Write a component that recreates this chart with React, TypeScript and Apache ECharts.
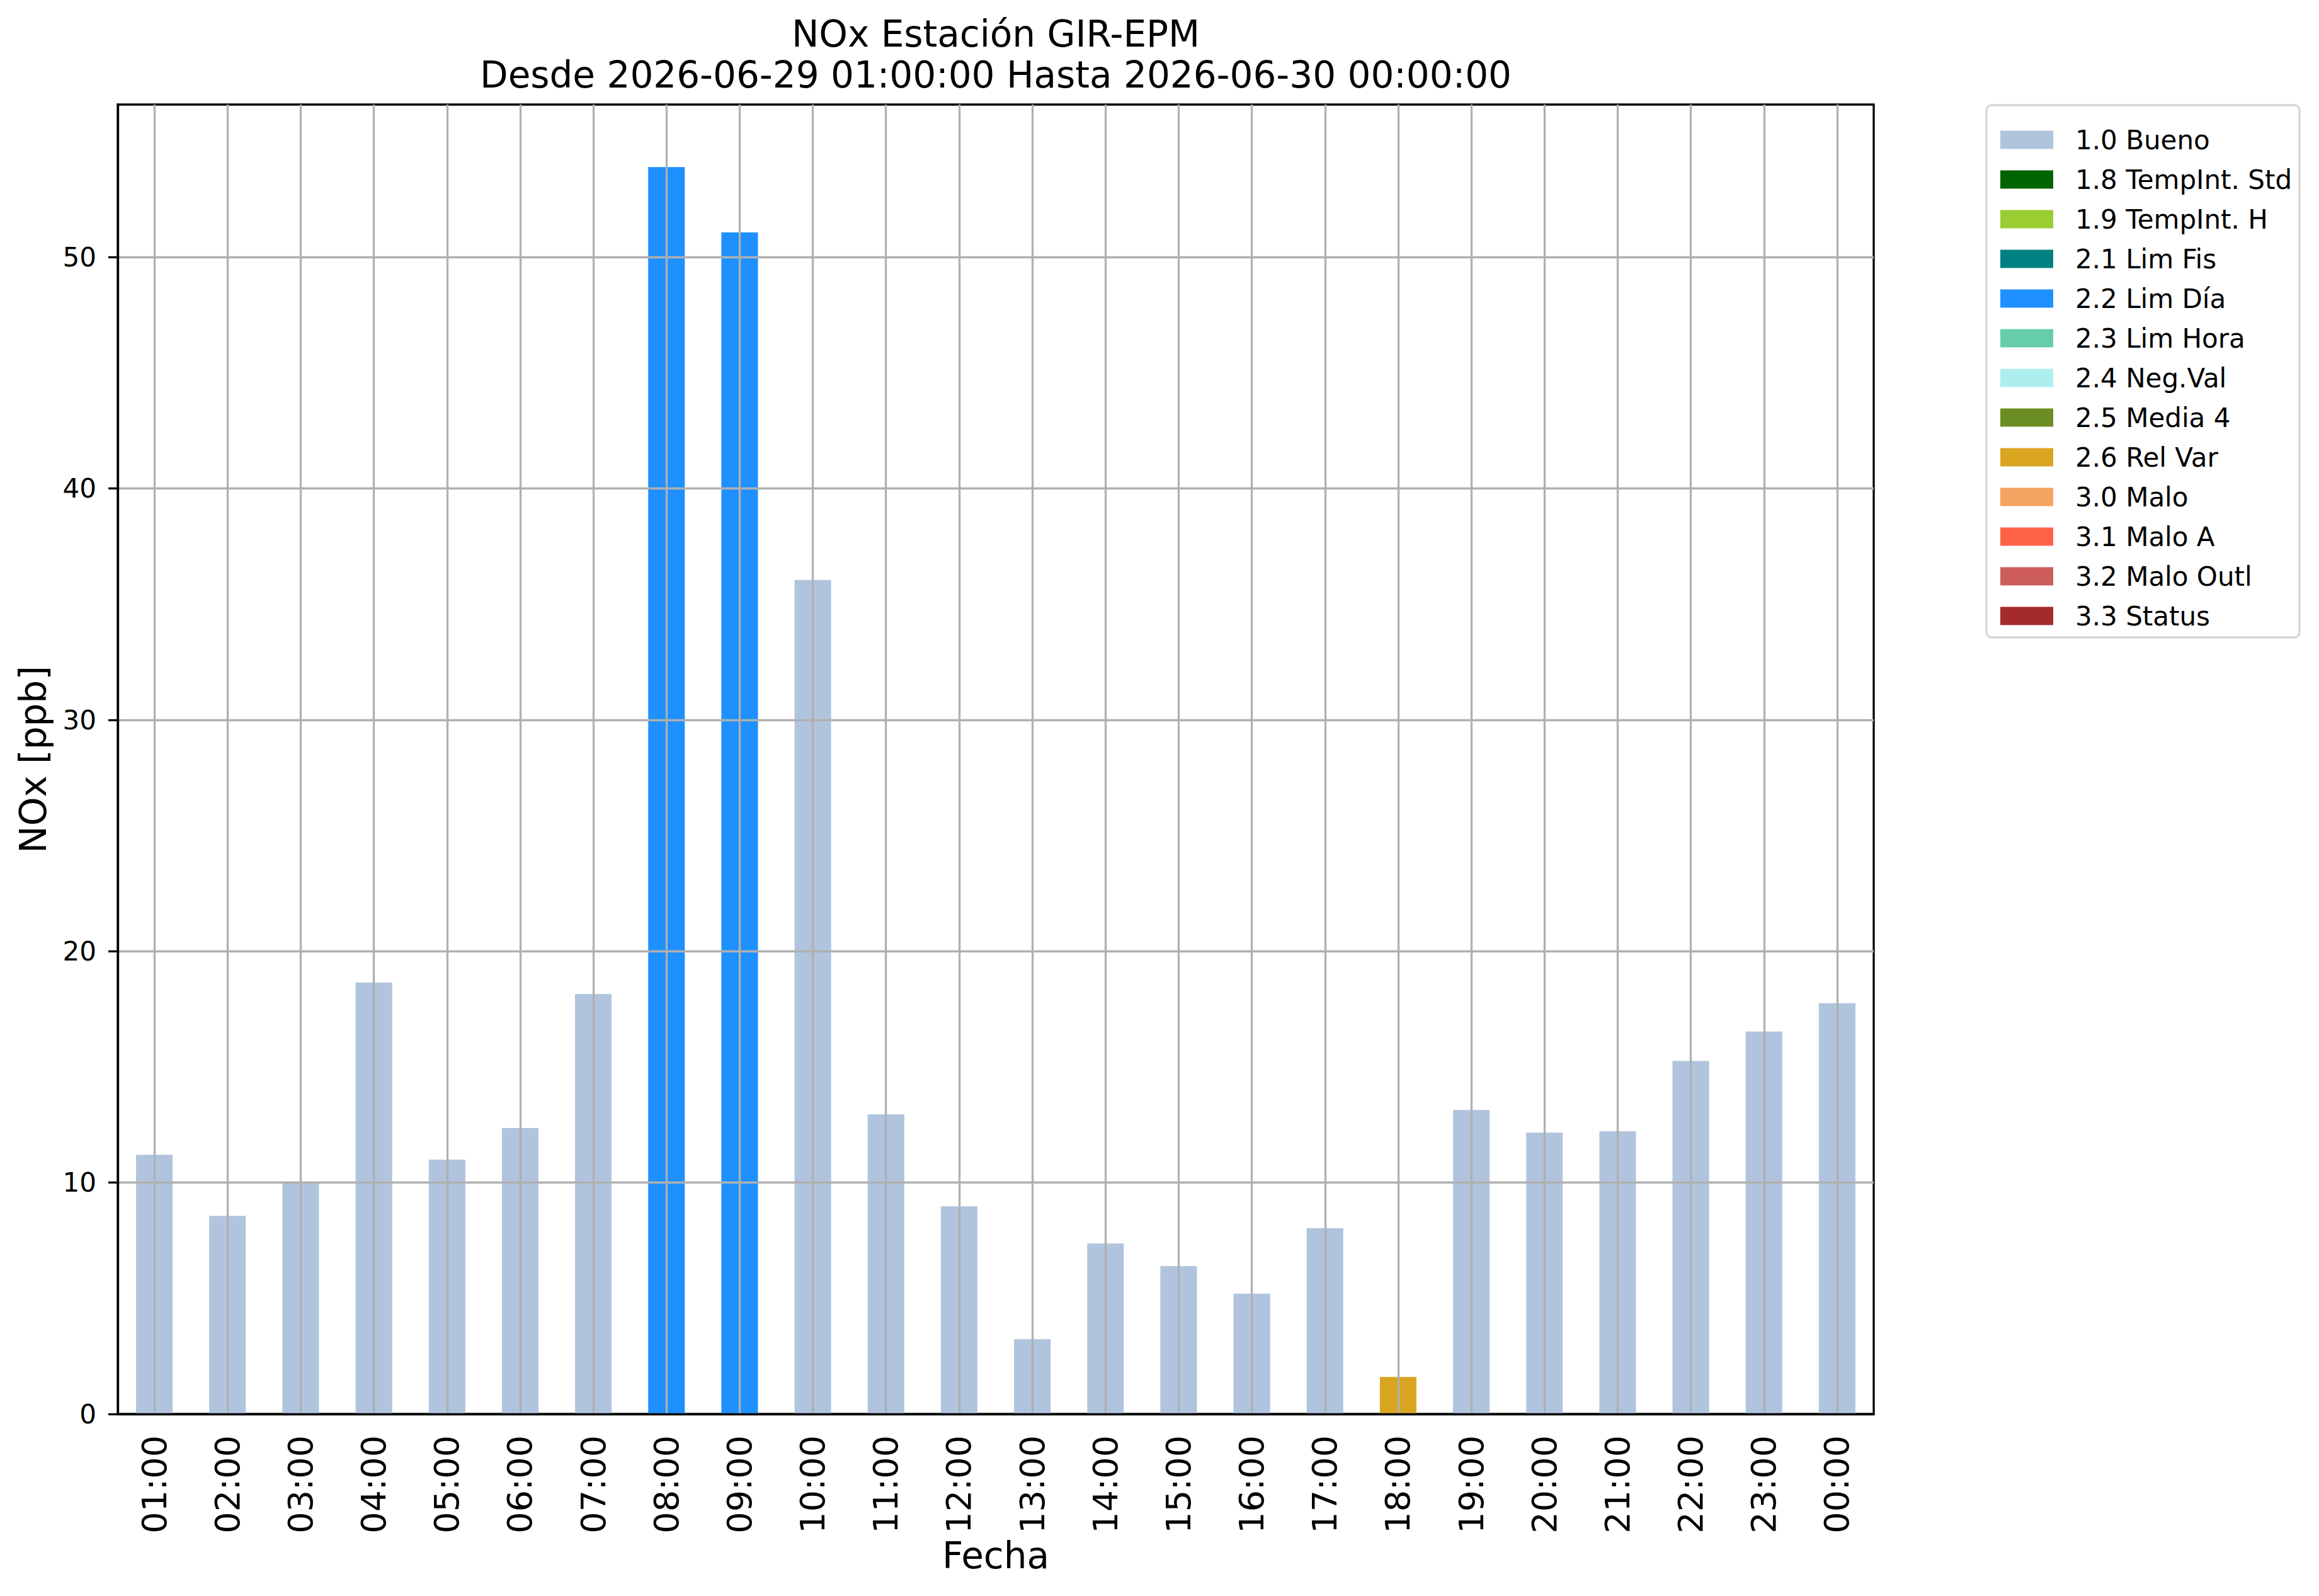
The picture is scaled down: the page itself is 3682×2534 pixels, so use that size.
import React, { useEffect, useRef } from "react";
import * as echarts from "echarts";

const hours = ["01:00","02:00","03:00","04:00","05:00","06:00","07:00","08:00","09:00","10:00","11:00","12:00","13:00","14:00","15:00","16:00","17:00","18:00","19:00","20:00","21:00","22:00","23:00","00:00"];
const noxValues = [11.2, 8.56, 10.02, 18.65, 10.99, 12.36, 18.15, 53.9, 51.07, 36.05, 12.95, 8.98, 3.23, 7.37, 6.39, 5.2, 8.03, 1.6, 13.14, 12.16, 12.22, 15.26, 16.53, 17.76];
const hourFlags = ["1.0 Bueno","1.0 Bueno","1.0 Bueno","1.0 Bueno","1.0 Bueno","1.0 Bueno","1.0 Bueno","2.2 Lim Día","2.2 Lim Día","1.0 Bueno","1.0 Bueno","1.0 Bueno","1.0 Bueno","1.0 Bueno","1.0 Bueno","1.0 Bueno","1.0 Bueno","2.6 Rel Var","1.0 Bueno","1.0 Bueno","1.0 Bueno","1.0 Bueno","1.0 Bueno","1.0 Bueno"];
const flagNames = ["1.0 Bueno","1.8 TempInt. Std","1.9 TempInt. H","2.1 Lim Fis","2.2 Lim Día","2.3 Lim Hora","2.4 Neg.Val","2.5 Media 4","2.6 Rel Var","3.0 Malo","3.1 Malo A","3.2 Malo Outl","3.3 Status"];
const flagColors = ["#B0C4DE","#006400","#9ACD32","#008080","#1E90FF","#66CDAA","#AFEEEE","#6B8E23","#DAA520","#F4A460","#FF6347","#CD5C5C","#A52A2A"];
const yTicks = [0, 10, 20, 30, 40, 50];
const yMax = 56.6;

const FONT = "DejaVu Sans";

export default function App() {
  const ref = useRef<HTMLDivElement>(null);
  useEffect(() => {
    if (!ref.current) return;
    const chart = echarts.init(ref.current, undefined, { renderer: "svg" });
    const series = flagNames.map((name, i) => ({
      name,
      type: "bar",
      stack: "total",
      barWidth: "50%",
      z: 2,
      itemStyle: { color: flagColors[i] },
      data: noxValues.map((v, j) => (hourFlags[j] === name ? v : null)),
    }));
    chart.setOption({
      animation: false,
      backgroundColor: "#ffffff",
      textStyle: { fontFamily: FONT },
      grid: {
        left: 187, right: 707, top: 166, bottom: 289,
        show: true, borderColor: "#000", borderWidth: 3.3, backgroundColor: "transparent",
      },
      legend: {
        orient: "vertical",
        left: 3171,
        top: 196,
        itemWidth: 84,
        itemHeight: 29,
        itemGap: 21,
        icon: "rect",
        data: flagNames,
        textStyle: { fontFamily: FONT, fontSize: 42, lineHeight: 42, color: "#000", padding: [0, 0, 0, 30] },
        z: 10,
      },
      xAxis: {
        type: "category",
        data: hours,
        z: 5,
        axisLine: { lineStyle: { color: "#000", width: 3.3 } },
        axisTick: { alignWithLabel: true, length: 15, lineStyle: { color: "#000", width: 3.3 } },
        axisLabel: { rotate: 90, fontSize: 54, fontFamily: FONT, color: "#000", margin: 34, interval: 0 },
        splitLine: { show: true, alignWithLabel: true, interval: 0, lineStyle: { color: "#b0b0b0", width: 3.3 } },
      },
      yAxis: {
        type: "value",
        min: 0,
        max: yMax,
        interval: 10,
        z: 5,
        axisLine: { show: true, lineStyle: { color: "#000", width: 3.3 } },
        axisTick: { show: true, length: 15, customValues: yTicks, lineStyle: { color: "#000", width: 3.3 } },
        axisLabel: {
          fontSize: 42, fontFamily: FONT, color: "#000", margin: 34,
          customValues: yTicks,
          formatter: (v: number) => (yTicks.indexOf(v) >= 0 ? String(v) : ""),
        },
        splitLine: { show: true, lineStyle: { color: "#b0b0b0", width: 3.3 } },
      },
      graphic: [
        {
          type: "rect", z: 0,
          shape: { x: 3154, y: 167, width: 497, height: 845, r: 8 },
          style: { fill: "#ffffff", stroke: "#d6d6d6", lineWidth: 3.3 },
        },
        {
          type: "text", x: 1581, y: 54, z: 10,
          style: { text: "NOx Estación GIR-EPM", fontSize: 58, fontFamily: FONT, fill: "#000", textAlign: "center", textVerticalAlign: "middle" },
        },
        {
          type: "text", x: 1581, y: 119, z: 10,
          style: { text: "Desde 2026-06-29 01:00:00 Hasta 2026-06-30 00:00:00", fontSize: 58, fontFamily: FONT, fill: "#000", textAlign: "center", textVerticalAlign: "middle" },
        },
        {
          type: "text", x: 1581, y: 2470, z: 10,
          style: { text: "Fecha", fontSize: 58, fontFamily: FONT, fill: "#000", textAlign: "center", textVerticalAlign: "middle" },
        },
        {
          type: "text", x: 53, y: 1206, rotation: Math.PI / 2, z: 10,
          style: { text: "NOx [ppb]", fontSize: 58, fontFamily: FONT, fill: "#000", textAlign: "center", textVerticalAlign: "middle" },
        },
      ],
      series,
    });
    return () => chart.dispose();
  }, []);
  return <div ref={ref} style={{ position: "absolute", left: 0, top: 0, width: 3682, height: 2534 }} />;
}
